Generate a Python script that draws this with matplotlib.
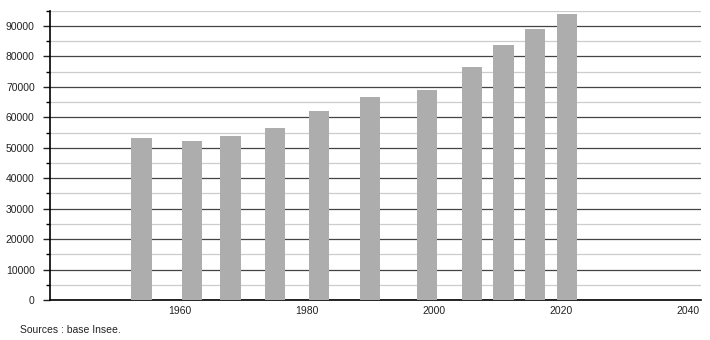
import matplotlib
matplotlib.use("Agg")
import matplotlib.pyplot as plt
from matplotlib.ticker import MultipleLocator

# Données : années de recensement et population
annees = [1954, 1962, 1968, 1975, 1982, 1990, 1999, 2006, 2011, 2016, 2021]
population = [53300, 52300, 54000, 56500, 62100, 66700, 69000, 76500, 83800, 89000, 94000]
ticks_x = [1960, 1980, 2000, 2020, 2040]
source = "Sources : base Insee."

plt.rcParams['font.family'] = ['Liberation Sans', 'DejaVu Sans']

fig = plt.figure(figsize=(7.1, 3.4), dpi=100)
ax = fig.add_axes([50 / 710, 40 / 340, 651 / 710, 289.2 / 340])

# Barres grises
ax.bar(annees, population, width=3.2, color='#adadad', zorder=3)

# Limites des axes
ax.set_xlim(1939.6, 2042.1)
ax.set_ylim(0, 95000)

# Graduations
ax.yaxis.set_major_locator(MultipleLocator(10000))
ax.yaxis.set_minor_locator(MultipleLocator(5000))
ax.set_xticks(ticks_x)
ax.tick_params(axis='y', which='major', length=5, width=1, pad=6, labelsize=7.5, colors='#222222')
ax.tick_params(axis='y', which='minor', length=3, width=1)
ax.tick_params(axis='x', length=0, pad=4, labelsize=7.5, colors='#222222')

# Grille : lignes foncées tous les 10000, claires entre
ax.grid(axis='y', which='major', color='#444444', linewidth=0.9, zorder=1)
ax.grid(axis='y', which='minor', color='#cccccc', linewidth=0.9, zorder=1)
ax.set_axisbelow(True)

# Bordures
ax.spines['top'].set_visible(False)
ax.spines['right'].set_visible(False)
ax.spines['left'].set_linewidth(1.2)
ax.spines['bottom'].set_linewidth(1.2)

# Source en bas
fig.text(20 / 710, 1 - 330 / 340, source, fontsize=7.5, va='center', ha='left', color='#222222')

plt.savefig("out.png", dpi=100)
plt.close()
